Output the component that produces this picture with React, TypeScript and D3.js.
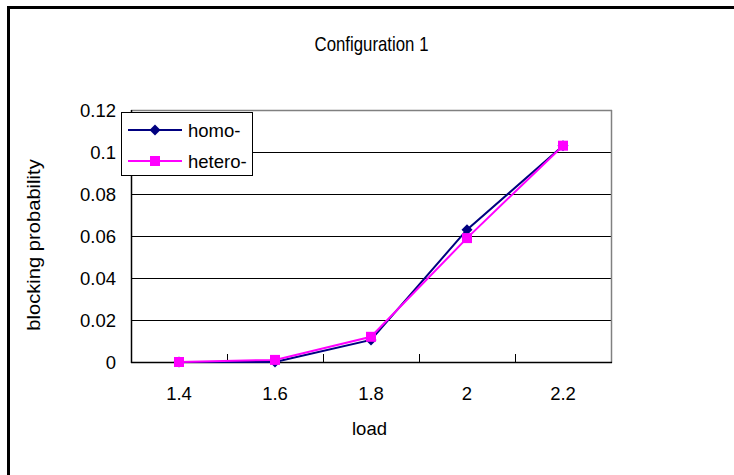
import React from "react";
import * as d3 from "d3";

const categories = ["1.4", "1.6", "1.8", "2", "2.2"];
const homo = [0, 0, 0.0105, 0.063, 0.103];
const hetero = [0, 0.001, 0.012, 0.059, 0.103];
const yTicks = [0, 0.02, 0.04, 0.06, 0.08, 0.1, 0.12];
const seriesNames = ["homo-", "hetero-"];

const W = 734;
const H = 475;
const L = 131, R = 611, T = 110, B = 362;
const FONT = "'Liberation Sans', Arial, sans-serif";
const FS = 18.5;

export default function App() {
  const x = d3.scaleBand<string>().domain(categories).range([L, R]).padding(0);
  const y = d3.scaleLinear().domain([0, 0.12]).range([B, T]);
  const cx = (c: string) => (x(c) as number) + x.bandwidth() / 2;
  const line = d3
    .line<number>()
    .x((_, i) => cx(categories[i]))
    .y((d) => y(d));
  const homoColor = "#000080";
  const heteroColor = "#FF00FF";
  const diamond = (px: number, py: number, s: number) =>
    `M${px},${py - s} L${px + s},${py} L${px},${py + s} L${px - s},${py} Z`;

  return (
    <svg
      width={W}
      height={H}
      style={{ position: "absolute", left: 0, top: 0 }}
      fontFamily={FONT}
    >
      <rect x={0} y={0} width={W} height={H} fill="#fff" />
      {/* outer frame */}
      <line x1={8.5} y1={7.5} x2={W} y2={7.5} stroke="#000" strokeWidth={3} />
      <line x1={8.5} y1={6} x2={8.5} y2={H} stroke="#000" strokeWidth={3} />

      <text
        transform="translate(371.5,51) scale(0.82,1)"
        textAnchor="middle"
        fontSize={20.5}
        fill="#000"
      >
        Configuration 1
      </text>

      {/* gridlines */}
      {yTicks.slice(1, -1).map((t) => (
        <line key={t} x1={L} x2={R} y1={y(t) + 0.5} y2={y(t) + 0.5} stroke="#000" strokeWidth={1} />
      ))}
      {/* plot area border top/right gray */}
      <line x1={L} x2={R + 1} y1={T + 0.5} y2={T + 0.5} stroke="#808080" strokeWidth={1.5} />
      <line x1={R + 0.5} x2={R + 0.5} y1={T} y2={B + 1} stroke="#808080" strokeWidth={1.5} />

      {/* axes */}
      <line x1={L + 0.5} x2={L + 0.5} y1={T} y2={B + 1} stroke="#000" strokeWidth={1.5} />
      <line x1={L} x2={R + 1} y1={B + 0.5} y2={B + 0.5} stroke="#000" strokeWidth={1.5} />
      {categories.slice(1).map((c) => (
        <line
          key={c}
          x1={(x(c) as number) + 0.5}
          x2={(x(c) as number) + 0.5}
          y1={B - 8}
          y2={B}
          stroke="#000"
          strokeWidth={1}
        />
      ))}

      {/* y tick labels */}
      {yTicks.map((t) => (
        <text key={t} x={116} y={y(t) + 6.5} textAnchor="end" fontSize={FS} fill="#000">
          {d3.format("~g")(t)}
        </text>
      ))}
      {/* x tick labels */}
      {categories.map((c) => (
        <text key={c} x={cx(c)} y={400} textAnchor="middle" fontSize={FS} fill="#000">
          {c}
        </text>
      ))}

      <text x={369.5} y={435} textAnchor="middle" fontSize={FS} fill="#000">
        load
      </text>
      <text
        transform={`translate(40,245) rotate(-90) scale(1.12,1)`}
        textAnchor="middle"
        fontSize={18}
        fill="#000"
      >
        blocking probability
      </text>

      {/* series */}
      <path d={line(homo) || ""} fill="none" stroke={homoColor} strokeWidth={2} />
      {homo.map((v, i) => (
        <path key={"h" + i} d={diamond(cx(categories[i]), y(v), 5.5)} fill={homoColor} />
      ))}
      <path d={line(hetero) || ""} fill="none" stroke={heteroColor} strokeWidth={2} />
      {hetero.map((v, i) => (
        <rect
          key={"e" + i}
          x={cx(categories[i]) - 5}
          y={y(v) - 5}
          width={10}
          height={10}
          fill={heteroColor}
        />
      ))}

      {/* legend */}
      <rect x={121.5} y={112.5} width={131} height={63} fill="#fff" stroke="#000" strokeWidth={1} />
      <line x1={128} x2={182} y1={130} y2={130} stroke={homoColor} strokeWidth={2} />
      <path d={diamond(155, 130, 5.5)} fill={homoColor} />
      <text x={188} y={136.5} fontSize={FS} fill="#000">
        {seriesNames[0]}
      </text>
      <line x1={128} x2={182} y1={161} y2={161} stroke={heteroColor} strokeWidth={2} />
      <rect x={150} y={156} width={10} height={10} fill={heteroColor} />
      <text x={188} y={167.5} fontSize={FS} fill="#000">
        {seriesNames[1]}
      </text>
    </svg>
  );
}
